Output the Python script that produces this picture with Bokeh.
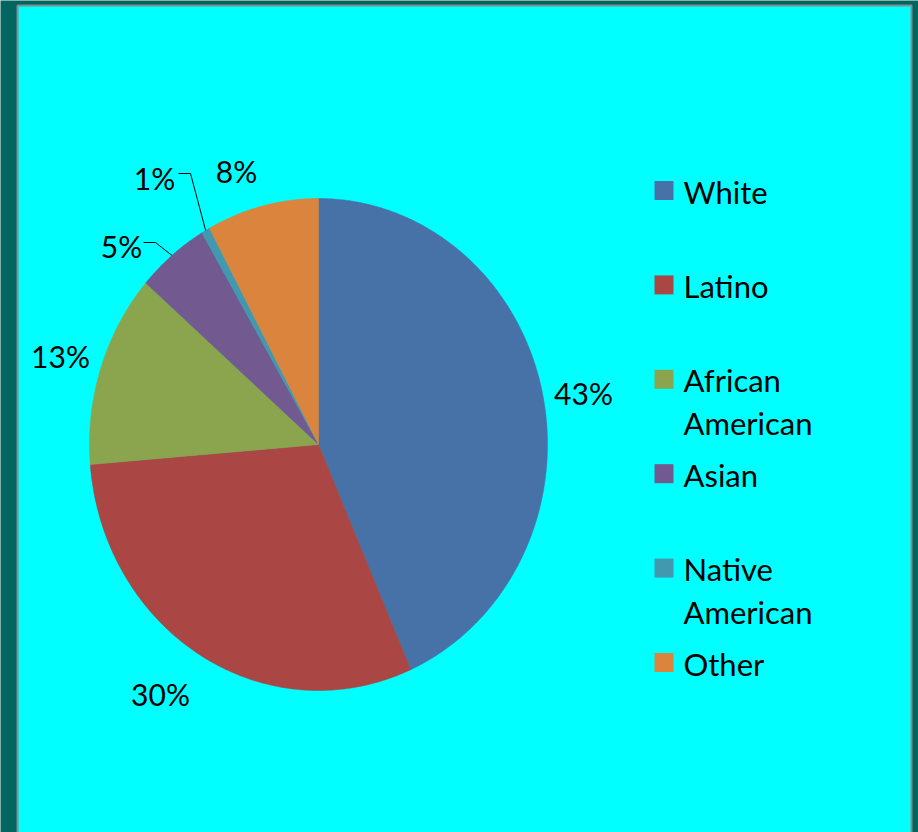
import numpy as np
from bokeh.plotting import figure
from bokeh.models import Range1d, ColumnDataSource
from bokeh.core.properties import value
from bokeh.embed import file_html
from bokeh.resources import INLINE

# ---- data ----
categories = ["White", "Latino", "African\nAmerican", "Asian", "Native\nAmerican", "Other"]
shares = [43.4, 30.3, 12.7, 5.1, 0.6, 7.9]
colors = ["#4672A7", "#AA4644", "#8BA54F", "#725990", "#4298AF", "#DB843D"]

# ---- layout ----
W, H = 918, 832
CX, CY, RX, RY = 318, 444, 229, 246
label_pos = [(583, 392), (160, 693), (60, 355), (121, 245), (154, 177), (236, 170)]
leader = [None, None, None, (143, 242), (178, 173), None]
FONT = "Lato"

p = figure(width=W, height=H, x_range=Range1d(0, W), y_range=Range1d(H, 0),
           output_backend="svg", toolbar_location=None, min_border=0)
p.axis.visible = False
p.grid.visible = False
p.outline_line_color = None
p.background_fill_color = "#00665F"
p.border_fill_color = "#00665F"

# cyan panel
p.quad(left=[17], right=[911], top=[5], bottom=[H + 5], fill_color="#00FFFF",
       line_color="#8A8A8A", line_width=2)

# pie slices as elliptical wedges
total = float(sum(shares))
cum = np.concatenate([[0.0], np.cumsum(shares)]) / total
xs, ys, mids = [], [], []
for i in range(len(shares)):
    a0, a1 = cum[i] * 2 * np.pi, cum[i + 1] * 2 * np.pi
    t = np.linspace(a0, a1, max(8, int((a1 - a0) * 80)))
    xs.append(np.concatenate([[CX], CX + RX * np.sin(t)]).tolist())
    ys.append(np.concatenate([[CY], CY - RY * np.cos(t)]).tolist())
    mids.append((a0 + a1) / 2)
src = ColumnDataSource(dict(xs=xs, ys=ys, color=colors))
p.patches("xs", "ys", source=src, fill_color="color", line_color="color", line_width=0.5)

# leader lines
for i, ld in enumerate(leader):
    if ld is None:
        continue
    ex = CX + RX * np.sin(mids[i])
    ey = CY - RY * np.cos(mids[i])
    p.line([ld[0], ld[0] + 12, ex], [ld[1], ld[1], ey], line_color="black", line_width=1)

# percentage labels
pct = ["%d%%" % round(s / total * 100) for s in shares]
p.text(x=[q[0] for q in label_pos], y=[q[1] for q in label_pos], text=pct,
       text_font=value(FONT), text_font_size="30px", text_color="black",
       text_align="center", text_baseline="middle")

# legend
LX, LY0, LSTEP = 663.5, 190, 94.4
p.rect(x=[LX] * len(categories), y=[LY0 + i * LSTEP for i in range(len(categories))],
       width=19, height=19, fill_color=colors, line_color=None)
tx, ty, tt = [], [], []
for i, c in enumerate(categories):
    for j, line in enumerate(c.split("\n")):
        tx.append(683)
        ty.append(LY0 + 1 + i * LSTEP + j * 43)
        tt.append(line)
p.text(x=tx, y=ty, text=tt, text_font=value(FONT), text_font_size="31px",
       text_color="black", text_align="left", text_baseline="middle")

open("out.html", "w").write(file_html(p, INLINE))
